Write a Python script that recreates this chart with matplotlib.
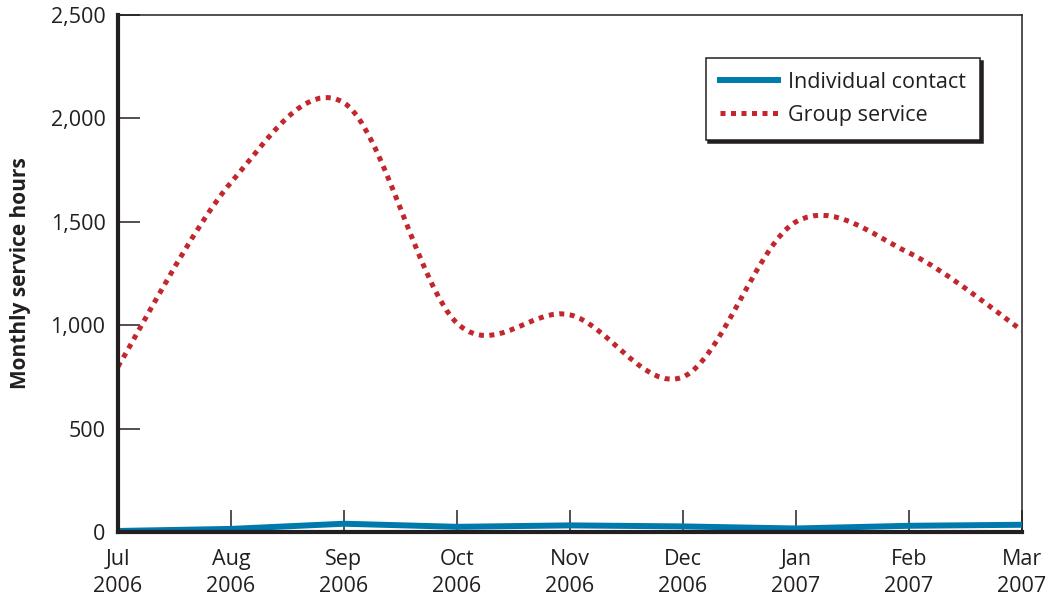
import numpy as np
import matplotlib
matplotlib.use("Agg")
import matplotlib.pyplot as plt
from matplotlib.path import Path
from matplotlib.patches import PathPatch
from matplotlib.lines import Line2D

months = ["Jul\n2006", "Aug\n2006", "Sep\n2006", "Oct\n2006", "Nov\n2006",
          "Dec\n2006", "Jan\n2007", "Feb\n2007", "Mar\n2007"]
individual = [5, 15, 40, 25, 32, 27, 17, 30, 35]
group = [800, 1690, 2075, 1010, 1050, 750, 1500, 1350, 975]
yticks = [0, 500, 1000, 1500, 2000, 2500]

BLUE = "#0079AD"
RED = "#C1272D"
INK = "#231F20"

plt.rcParams['font.family'] = ['Open Sans', 'DejaVu Sans']
plt.rcParams['text.color'] = INK


def smooth_path(xs, ys):
    # catmull-rom through the points, as cubic bezier segments
    pts = np.column_stack([xs, ys]).astype(float)
    ext = np.vstack([pts[0], pts, pts[-1]])
    verts = [pts[0]]
    codes = [Path.MOVETO]
    for i in range(1, len(ext) - 2):
        p0, p1, p2, p3 = ext[i - 1], ext[i], ext[i + 1], ext[i + 2]
        verts += [p1 + (p2 - p0) / 6, p2 - (p3 - p1) / 6, p2]
        codes += [Path.CURVE4] * 3
    return Path(verts, codes)


fig = plt.figure(figsize=(10.47, 5.96), dpi=100)
ax = fig.add_axes([118 / 1047, 1 - 532 / 596, 904 / 1047, 517 / 596])

x = np.arange(len(months))
ax.plot(x, individual, color=BLUE, lw=4.3, solid_joinstyle='round', zorder=3)

ax.add_patch(PathPatch(smooth_path(x, group), fill=False, edgecolor=RED,
                       lw=3.6, linestyle=(0, (1, 1.1)), capstyle='butt', zorder=3))

ax.set_xlim(0, len(months) - 1)
ax.set_ylim(0, 2500)
ax.set_xticks(x)
ax.set_xticklabels(months, fontsize=15.5, linespacing=1.38)
ax.set_yticks(yticks)
ax.set_yticklabels([f"{v:,}" for v in yticks], fontsize=15.5)
ax.tick_params(axis='both', direction='in', length=16, width=1.1, color=INK,
               labelcolor=INK)
ax.tick_params(axis='x', pad=12)
ax.tick_params(axis='y', pad=9)

for side in ['top', 'right']:
    ax.spines[side].set_linewidth(1.1)
    ax.spines[side].set_color(INK)
for side in ['left', 'bottom']:
    ax.spines[side].set_linewidth(3.0)
    ax.spines[side].set_color(INK)
    ax.spines[side].set_zorder(4)

ax.set_ylabel("Monthly service hours", fontsize=15, fontweight='bold',
              labelpad=14, color=INK)

handles = [Line2D([], [], color=BLUE, lw=4.3),
           Line2D([], [], color=RED, lw=3.6, linestyle=(0, (1, 1.1)))]
leg = ax.legend(handles, ["Individual contact", "Group service"],
                loc='upper left', bbox_to_anchor=(0.650, 0.917),
                borderaxespad=0, fontsize=15.5, frameon=True, fancybox=False,
                handlelength=2.7, handletextpad=0.5, borderpad=0.65,
                labelspacing=0.55,
                shadow={'facecolor': INK, 'edgecolor': INK, 'alpha': 1})
leg.get_frame().set_edgecolor(INK)
leg.get_frame().set_linewidth(1.1)
leg.get_frame().set_alpha(1)

fig.savefig("out.png", dpi=100)
